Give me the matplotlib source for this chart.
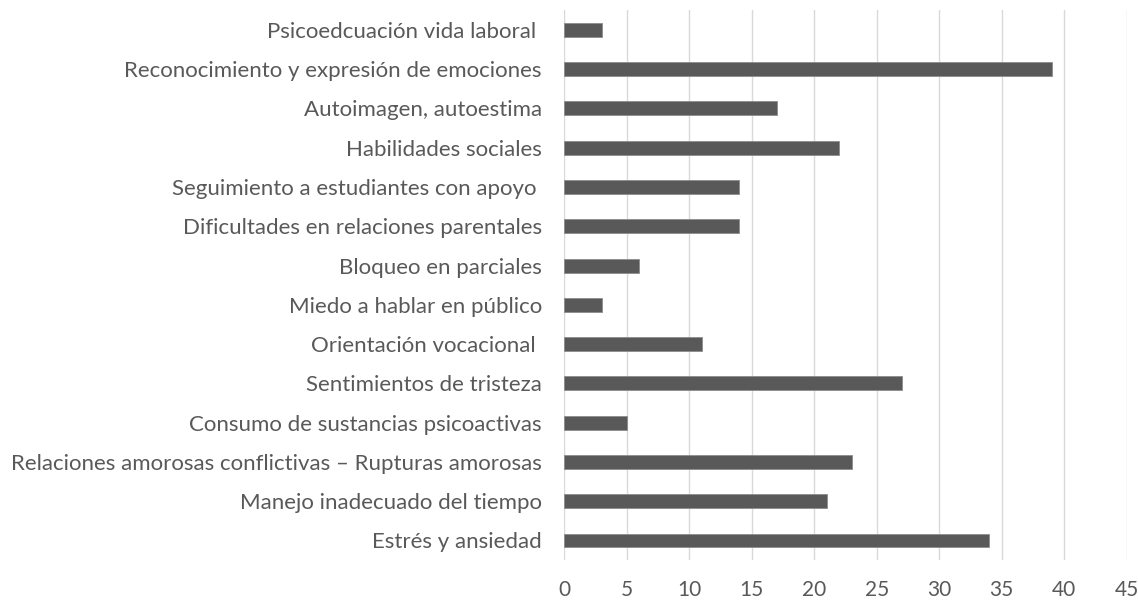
import matplotlib
matplotlib.use("Agg")
import matplotlib.pyplot as plt

categories = [
    "Psicoedcuación vida laboral ",
    "Reconocimiento y expresión de emociones",
    "Autoimagen, autoestima",
    "Habilidades sociales",
    "Seguimiento a estudiantes con apoyo ",
    "Dificultades en relaciones parentales",
    "Bloqueo en parciales",
    "Miedo a hablar en público",
    "Orientación vocacional ",
    "Sentimientos de tristeza",
    "Consumo de sustancias psicoactivas",
    "Relaciones amorosas conflictivas – Rupturas amorosas",
    "Manejo inadecuado del tiempo",
    "Estrés y ansiedad",
]
values = [3, 39, 17, 22, 14, 14, 6, 3, 11, 27, 5, 23, 21, 34]
x_ticks = [0, 5, 10, 15, 20, 25, 30, 35, 40, 45]

plt.rcParams['font.family'] = ['Lato', 'DejaVu Sans']
text_color = "#595959"

fig = plt.figure(figsize=(11.38, 6.01), dpi=100)
ax = fig.add_axes([0.4956, 0.068, 0.4945, 0.915])

pos = list(range(len(categories)))[::-1]
ax.barh(pos, values, height=0.355, color="#595959", edgecolor="#8c8c8c", linewidth=0.6, zorder=3)

ax.set_xlim(0, 45)
ax.set_ylim(-0.5, len(categories) - 0.5)
ax.set_xticks(x_ticks)
ax.set_xticklabels([str(t) for t in x_ticks])
ax.set_yticks(pos)
ax.set_yticklabels(categories)

ax.grid(axis="x", color="#d9d9d9", linewidth=1.0, zorder=0)
ax.grid(axis="y", visible=False)
for s in ["top", "right", "bottom", "left"]:
    ax.spines[s].set_visible(False)

ax.tick_params(axis="y", length=0, pad=16, labelsize=16, labelcolor=text_color)
ax.tick_params(axis="x", length=0, pad=14, labelsize=15, labelcolor=text_color)

fig.savefig("out.png", dpi=100)
